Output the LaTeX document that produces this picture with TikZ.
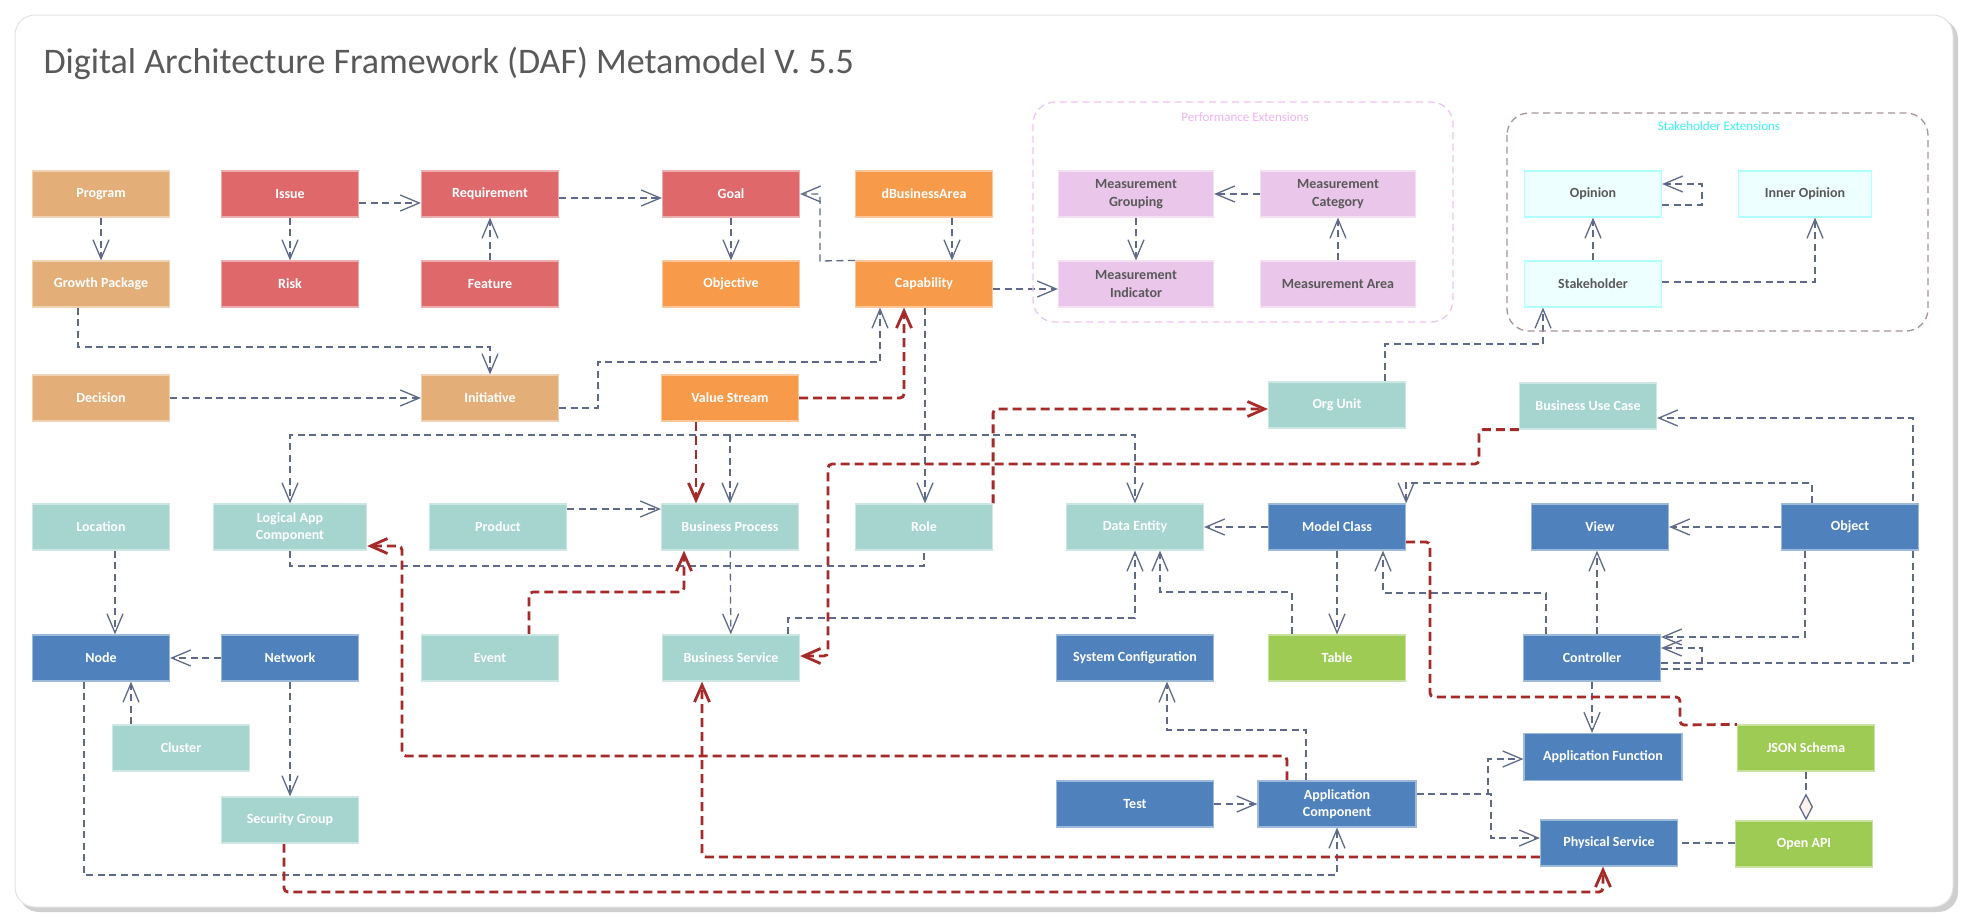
\documentclass[tikz,border=0pt]{standalone}
\usepackage{fontspec}
\setmainfont{Carlito}
\usepackage{xcolor}
\usetikzlibrary{arrows.meta}

\definecolor{cTan}{HTML}{E4AE79}
\definecolor{cRed}{HTML}{DE686A}
\definecolor{cOrange}{HTML}{F79A4A}
\definecolor{cTeal}{HTML}{A5D5CE}
\definecolor{cBlue}{HTML}{4F81BD}
\definecolor{cGreen}{HTML}{9DCB53}
\definecolor{cPink}{HTML}{EAC6EA}
\definecolor{cCyan}{HTML}{EEFFFF}
\definecolor{cCyanLine}{HTML}{B0FFFF}
\definecolor{cLine}{HTML}{5E6A87}
\definecolor{cAssoc}{HTML}{A52A2A}
\definecolor{cTitle}{HTML}{595959}
\definecolor{cDia}{HTML}{FBF0EA}
\definecolor{cFrame}{HTML}{E2E2E2}
\definecolor{cShadow}{HTML}{CFCFCF}
\definecolor{cPerfLine}{HTML}{F2C4F0}
\definecolor{cPerfText}{HTML}{F0B4EE}
\definecolor{cStakeLine}{HTML}{A89494}
\definecolor{cStakeText}{HTML}{3CF2F2}

\pgfdeclarelayer{bg}
\pgfdeclarelayer{edges}
\pgfsetlayers{bg,edges,main}

\tikzset{
    box/.style={
        rectangle, minimum width=137pt, minimum height=46pt,
        inner sep=2pt, align=center, text=white, line width=1.2pt,
        font=\bfseries\fontsize{14}{17.5}\selectfont,
    },
    plan/.style={box, fill=cTan, draw=cTan!55!white},
    motive/.style={box, fill=cRed, draw=cRed!55!white},
    strat/.style={box, fill=cOrange, draw=cOrange!55!white},
    logic/.style={box, fill=cTeal, draw=cTeal!55!white},
    tech/.style={box, fill=cBlue, draw=cBlue!55!white},
    spec/.style={box, fill=cGreen, draw=cGreen!55!white},
    perf/.style={box, fill=cPink, draw=cPink!55!white, text=cTitle},
    stake/.style={box, fill=cCyan, draw=cCyanLine, text=cTitle},
    flow/.style={-{Straight Barb[length=19pt,width=16pt]}, line width=1.3pt,
        draw=cLine, dash pattern=on 7pt off 4.5pt},
    plain/.style={line width=1.3pt, draw=cLine, dash pattern=on 7pt off 4.5pt},
    link/.style={-{Straight Barb[length=17pt,width=15pt]}, line width=2.8pt,
        draw=cAssoc, dash pattern=on 9pt off 5pt, rounded corners=4pt},
    groupframe/.style={rounded corners=22pt, line width=1.3pt, dash pattern=on 7pt off 4.5pt},
}

\begin{document}
\begin{tikzpicture}[x=1pt, y=-1pt]
    \useasboundingbox (0,0) rectangle (1971,922);
    \begin{pgfonlayer}{bg}
        \fill[cShadow, rounded corners=20pt] (19,19) rectangle (1958,912);
        \filldraw[draw=cFrame, fill=white, line width=1pt, rounded corners=20pt] (15,15) rectangle (1953,907);
    \end{pgfonlayer}

    \node[anchor=base west, text=cTitle, font=\fontsize{36}{42}\selectfont] (title) at (40,73)
        {Digital Architecture Framework (DAF) Metamodel V. 5.5};

    % extension groups
    \draw[groupframe, draw=cPerfLine] (1033,102) rectangle (1453,322);
    \node[text=cPerfText, font=\fontsize{13}{15}\selectfont] (perftitle) at (1245,117) {Performance Extensions};
    \draw[groupframe, draw=cStakeLine] (1507,113) rectangle (1928,331);
    \node[text=cStakeText, font=\fontsize{13}{15}\selectfont] (staketitle) at (1719,126) {Stakeholder Extensions};

    % row 1 and 2
    \node[plan] (prog) at (101,194) {Program};
    \node[motive] (issue) at (290,194) {Issue};
    \node[motive] (req) at (490,194) {Requirement};
    \node[motive] (goal) at (731,194) {Goal};
    \node[strat] (dba) at (924,194) {dBusinessArea};
    \node[plan] (gp) at (101,284) {Growth Package};
    \node[motive] (risk) at (290,284) {Risk};
    \node[motive] (feat) at (490,284) {Feature};
    \node[strat] (obj) at (731,284) {Objective};
    \node[strat] (cap) at (924,284) {Capability};

    % row 3
    \node[plan] (dec) at (101,398) {Decision};
    \node[plan] (init) at (490,398) {Initiative};
    \node[strat] (vs) at (730,398) {Value Stream};
    \node[logic] (orgu) at (1337,405) {Org Unit};
    \node[logic] (buc) at (1588,406) {Business Use Case};

    % performance and stakeholder
    \node[perf, minimum width=155pt] (mg) at (1136,194) {Measurement\\Grouping};
    \node[perf, minimum width=155pt] (mcat) at (1338,194) {Measurement\\Category};
    \node[perf, minimum width=155pt] (mi) at (1136,284) {Measurement\\Indicator};
    \node[perf, minimum width=155pt] (ma) at (1338,284) {Measurement Area};
    \node[stake] (opin) at (1593,194) {Opinion};
    \node[stake, minimum width=133pt] (inner) at (1805,194) {Inner Opinion};
    \node[stake] (sh) at (1593,284) {Stakeholder};

    % row 4
    \node[logic] (loc) at (101,527) {Location};
    \node[logic, minimum width=153pt] (lac) at (290,527) {Logical App\\Component};
    \node[logic] (prod) at (498,527) {Product};
    \node[logic] (bp) at (730,527) {Business Process};
    \node[logic] (role) at (924,527) {Role};
    \node[logic] (de) at (1135,527) {Data Entity};
    \node[tech] (mc) at (1337,527) {Model Class};
    \node[tech] (view) at (1600,527) {View};
    \node[tech] (objc) at (1850,527) {Object};

    % row 5
    \node[tech] (node) at (101,658) {Node};
    \node[tech] (net) at (290,658) {Network};
    \node[logic] (evt) at (490,658) {Event};
    \node[logic] (bs) at (731,658) {Business Service};
    \node[tech, minimum width=157pt] (sc) at (1135,658) {System Configuration};
    \node[spec] (tbl) at (1337,658) {Table};
    \node[tech] (ctrl) at (1592,658) {Controller};

    % lower rows
    \node[logic] (clus) at (181,748) {Cluster};
    \node[logic] (sg) at (290,820) {Security Group};
    \node[tech, minimum width=158pt, minimum height=47pt] (af) at (1603,757) {Application Function};
    \node[spec] (json) at (1806,748) {JSON Schema};
    \node[tech, minimum width=157pt] (test) at (1135,804) {Test};
    \node[tech, minimum width=158pt] (ac) at (1337,804) {Application\\Component};
    \node[tech] (ps) at (1609,843) {Physical Service};
    \node[spec] (oapi) at (1804,844) {Open API};

    \begin{pgfonlayer}{edges}
    % planning and motivation
    \draw[flow] (prog) -- (gp);
    \draw[flow] (issue) -- (risk);
    \draw[flow] (issue.east |- 0,203) -- (req.west |- 0,203);
    \draw[flow] (req.east |- 0,198) -- (goal.west |- 0,198);
    \draw[flow] (feat) -- (req);
    \draw[flow] (goal) -- (obj);
    \draw[flow] (dba.south -| 952,0) -- (cap.north -| 952,0);
    \draw[flow] (cap.north west) -- (820,261) |- (goal.east);
    \draw[flow] (gp.south -| 78,0) |- (init.north |- 0,347) -- (init.north);
    \draw[flow] (dec) -- (init);
    \draw[flow] (init.east |- 0,408) -- (598,408) |- (880,362) -- (cap.south -| 880,0);
    \draw[flow] (cap.south -| 925,0) -- (role.north -| 925,0);
    \draw[flow] (cap.south -| 925,0) |- (lac.north |- 0,435) -- (lac.north);
    \draw[flow] (cap.south -| 925,0) |- (bp.north |- 0,435) -- (bp.north);
    \draw[flow] (cap.south -| 925,0) |- (de.north |- 0,435) -- (de.north);

    % business layer
    \draw[flow] (prod.east |- 0,509) -- (bp.west |- 0,509);
    \draw[plain] (lac.south) |- (role.south |- 0,566) -- (role.south);
    \draw[flow] (bp) -- (bs);
    \draw[flow] (bs.north -| 788,0) |- (de.south |- 0,618) -- (de.south);

    % infrastructure
    \draw[flow] (loc.south -| 115,0) -- (node.north -| 115,0);
    \draw[flow] (net) -- (node);
    \draw[flow] (clus.north -| 131,0) -- (node.south -| 131,0);
    \draw[flow] (net) -- (sg);
    \draw[flow] (node.south -| 84,0) |- (ac.south |- 0,875) -- (ac.south);

    % application layer
    \draw[flow] (mc) -- (de);
    \draw[flow] (objc) -- (view);
    \draw[flow] (objc.north -| 1812,0) |- (mc.north east |- 0,483) -- (mc.north east);
    \draw[flow] (mc) -- (tbl);
    \draw[flow] (tbl.north -| 1292,0) |- (1160,592) -- (de.south -| 1160,0);
    \draw[flow] (ctrl.north -| 1546,0) |- (1383,593) -- (mc.south -| 1383,0);
    \draw[flow] (ctrl.north -| 1597,0) -- (view.south -| 1597,0);
    \draw[flow] (objc.south -| 1805,0) |- (ctrl.east |- 0,637);
    \draw[flow] (ctrl.east |- 0,669) -| (1702,648) -- (ctrl.east |- 0,648);
    \draw[flow] (ctrl.east |- 0,663) -| (1913,418) -- (buc.east |- 0,418);
    \draw[flow] (ctrl.south) -- (ctrl.south |- af.north);
    \draw[flow] (ac.north -| 1306,0) |- (1167,730) -- (sc.south -| 1167,0);
    \draw[flow] (test) -- (ac);
    \draw[flow] (ac.east |- 0,794) -- (1488,794) |- (af.west |- 0,759);
    \draw[flow] (ac.east |- 0,794) -- (1491,794) |- (ps.west |- 0,838);
    \draw[plain] (oapi.west |- 0,843) -- (ps.east |- 0,843);
    \draw[plain, -{Diamond[length=27pt,width=14pt,fill=cDia]}] (json.south) -- (json.south |- oapi.north);

    % extensions
    \draw[flow] (cap.east |- 0,289) -- (mi.west |- 0,289);
    \draw[flow] (mcat) -- (mg);
    \draw[flow] (mg) -- (mi);
    \draw[flow] (ma) -- (mcat);
    \draw[flow] (opin.east |- 0,205) -| (1702,184) -- (opin.east |- 0,184);
    \draw[flow] (sh) -- (opin);
    \draw[flow] (sh.east |- 0,282) -| (inner.south -| 1815,0);
    \draw[flow] (orgu.north -| 1385,0) |- (1543,344) -- (sh.south -| 1543,0);

    % associations
    \draw[link] (vs.east) -| (cap.south -| 904,0);
    \draw[link] (vs.south -| 696,0) -- (bp.north -| 696,0);
    \draw[link] (evt.north -| 529,0) |- (684,592) -- (bp.south -| 684,0);
    \draw[link] (ac.north -| 1287,0) |- (402,756) |- (lac.east |- 0,546);
    \draw[link] (buc.south west) -| (1479,464) -| (828,656) -- (bs.east |- 0,656);
    \draw[link] (role.north east) |- (orgu.west |- 0,409);
    \draw[link] (ps.west |- 0,857) -| (bs.south -| 702,0);
    \draw[link] (sg.south -| 284,0) |- (1603,892) -- (ps.south -| 1603,0);
    \draw[link, -] (mc.east |- 0,542) -| (1430,697) -| (1680,725) -- (json.north west);
    \end{pgfonlayer}
\end{tikzpicture}
\end{document}
